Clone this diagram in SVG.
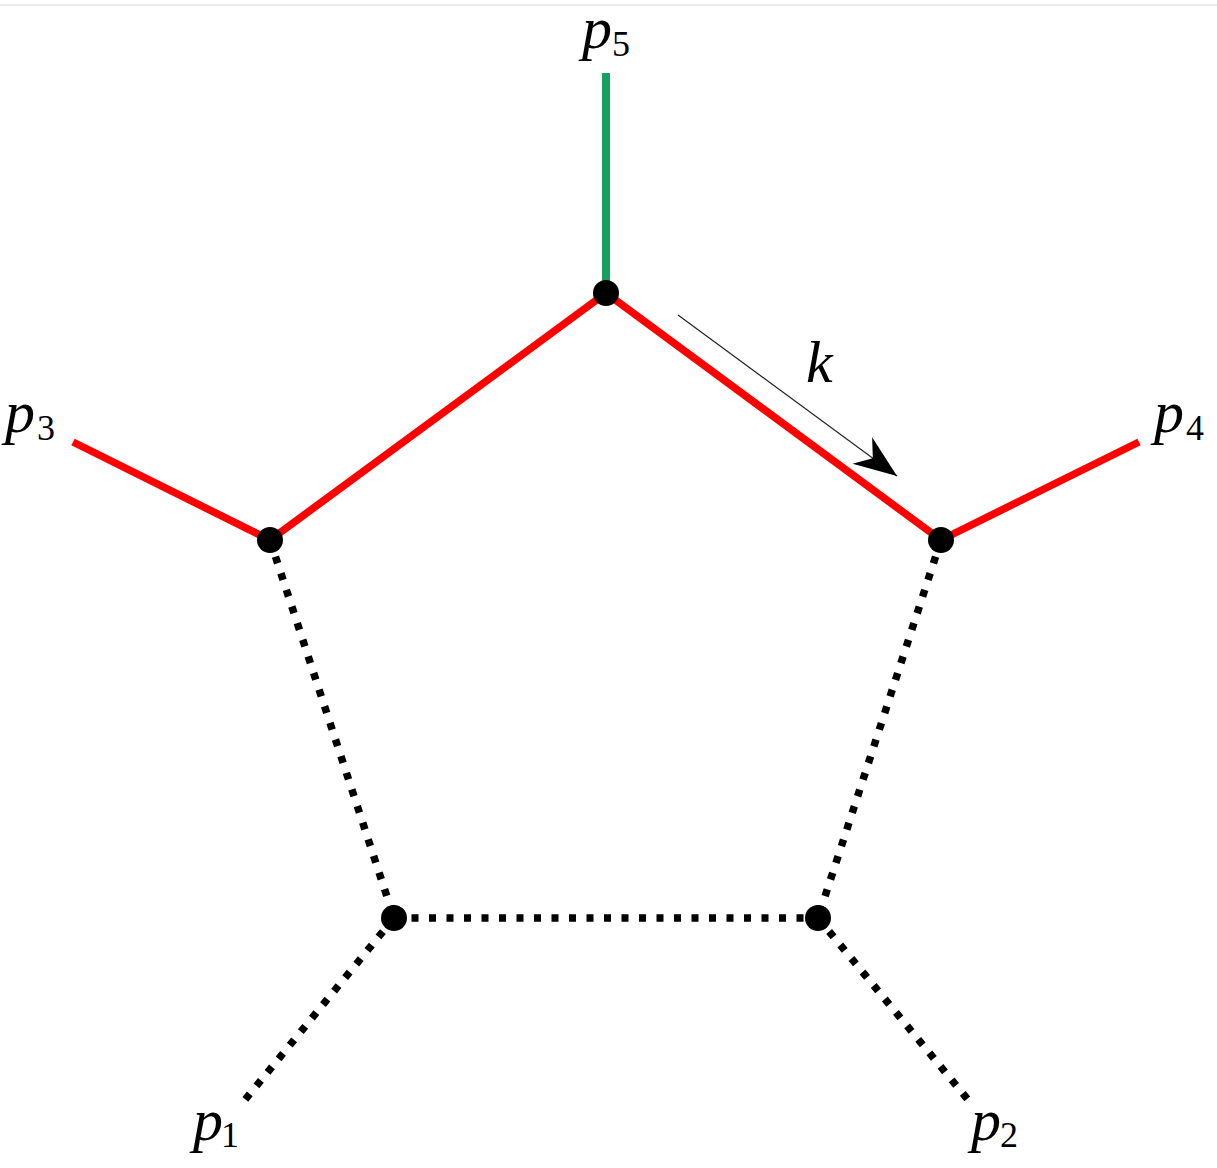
<svg xmlns="http://www.w3.org/2000/svg" width="1217" height="1168" viewBox="0 0 1217 1168">
  <style>
    .red { stroke: #ff0000; stroke-width: 7.5; fill: none; }
    .green { stroke: #17a05d; stroke-width: 8; fill: none; }
    .dot { stroke: #000000; stroke-width: 7.5; stroke-dasharray: 7 10.5; fill: none; }
    .vtx { fill: #000000; }
    .lbl { font-family: "Liberation Serif", "Times New Roman", serif; font-style: italic; font-size: 60px; fill: #000000; }
    .sub { font-family: "Liberation Serif", "Times New Roman", serif; font-style: normal; font-size: 36px; fill: #000000; }
    .mom { stroke: #222222; stroke-width: 1.2; fill: none; }
  </style>
  <defs>
    <marker id="stealth" markerUnits="userSpaceOnUse" viewBox="-45 -18 47 36" markerWidth="47" markerHeight="36" refX="0" refY="0" orient="auto">
      <path d="M0,0 L-43,-16.5 L-30,0 L-43,16.5 Z" fill="#000000"/>
    </marker>
  </defs>
  <rect x="0" y="0" width="1217" height="1168" fill="#ffffff"/>
  <line x1="0" y1="5" x2="1217" y2="5" stroke="#e6e6e6" stroke-width="1.5"/>

  <g id="connectors">
    <line class="green" x1="606" y1="73" x2="606" y2="293"/>
    <line class="red" x1="606" y1="293" x2="270" y2="540"/>
    <line class="red" x1="606" y1="293" x2="941" y2="540"/>
    <line class="red" x1="73" y1="442" x2="270" y2="540"/>
    <line class="red" x1="1139" y1="442" x2="941" y2="540"/>
    <line class="dot" x1="270" y1="540" x2="394" y2="918"/>
    <line class="dot" x1="941" y1="540" x2="818" y2="918"/>
    <line class="dot" x1="394" y1="918" x2="818" y2="918"/>
    <line class="dot" x1="394" y1="918" x2="244" y2="1101"/>
    <line class="dot" x1="818" y1="918" x2="969" y2="1101"/>
    <line class="mom" x1="678" y1="315" x2="897" y2="476" marker-end="url(#stealth)"/>
  </g>

  <g id="v5"><circle class="vtx" cx="606" cy="293" r="13"/></g>
  <g id="v3"><circle class="vtx" cx="270" cy="540" r="13"/></g>
  <g id="v4"><circle class="vtx" cx="941" cy="540" r="13"/></g>
  <g id="v1"><circle class="vtx" cx="394" cy="918" r="13"/></g>
  <g id="v2"><circle class="vtx" cx="818" cy="918" r="13"/></g>

  <g id="label-p5"><text class="lbl" x="582" y="48">p</text><text class="sub" x="612" y="56">5</text></g>
  <g id="label-p3"><text class="lbl" x="5" y="432">p</text><text class="sub" x="37" y="440">3</text></g>
  <g id="label-p4"><text class="lbl" x="1154" y="432">p</text><text class="sub" x="1186" y="440">4</text></g>
  <g id="label-p1"><text class="lbl" x="193" y="1140">p</text><text class="sub" x="221" y="1147">1</text></g>
  <g id="label-p2"><text class="lbl" x="971" y="1140">p</text><text class="sub" x="1000" y="1147">2</text></g>
  <g id="label-k"><text class="lbl" x="806" y="382">k</text></g>
</svg>
